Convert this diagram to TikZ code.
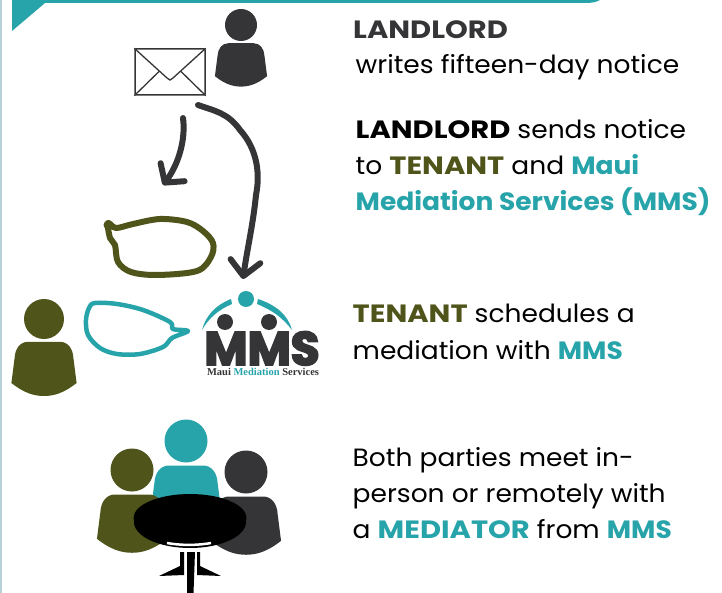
\documentclass[tikz,border=0pt]{standalone}
\usepackage{fontspec}
\setmainfont{Poppins}[FakeStretch=1.06]
\newfontfamily\capsfont{Poppins}[FakeStretch=1.16]
\newfontfamily\mmsfont{Poppins Bold}[FakeBold=4]
\newfontfamily\logofont{Liberation Serif}
\usetikzlibrary{arrows.meta}
\definecolor{teal1}{HTML}{27A3AA}
\definecolor{olive1}{HTML}{4F541A}
\definecolor{dark1}{HTML}{353537}
\definecolor{edge1}{HTML}{B8D0D8}
\newcommand{\lord}[1]{{\capsfont\bfseries #1}}
\newcommand{\ten}[1]{\textcolor{olive1}{\capsfont\bfseries #1}}
\newcommand{\med}[1]{\textcolor{teal1}{\capsfont\bfseries #1}}
\newcommand{\mms}[1]{\textcolor{teal1}{\textbf{#1}}}
% person: x, y of the head, head radius, colour
\newcommand{\person}[4]{
  \fill[#4] (#1,#2) circle (#3);
  \fill[#4, shift={(#1,#2)}, scale=#3] (-.8,1.14) -- (.8,1.14)
    .. controls (1.2,1.14) and (1.45,1.5) .. (1.47,1.95)
    -- (1.63,3.2) .. controls (1,3.7) and (.5,3.85) .. (0,3.85)
    .. controls (-.5,3.85) and (-1,3.7) .. (-1.63,3.2)
    -- (-1.47,1.95) .. controls (-1.45,1.5) and (-1.2,1.14) .. (-.8,1.14) -- cycle;
}
\begin{document}
\begin{tikzpicture}[x = 1pt, y = -1pt]
    \tikzstyle{every node} = [inner sep = 0pt];
    \tikzstyle{txt} = [anchor = base west, align = left, font = \fontsize{25}{36}\selectfont, text = black];
    \tikzstyle{mailbox} = [draw = dark1, line width = 1.5pt, rounded corners = 1pt, minimum width = 70pt, minimum height = 46pt];
    \tikzstyle{pen} = [draw = dark1, line width = 6pt, line cap = round, line join = round];
    \useasboundingbox (0,0) rectangle (722,593);
    % edge and banner:
    \fill[edge1] (0,0) rectangle (1.5,593);
    \fill[teal1] (12,0) -- (12,31) -- (45,3) -- (585,3) .. controls (592,3) and (597,2) .. (600,0) -- cycle;
    % landlord and notice:
    \person{241}{25}{16}{dark1}
    \node[mailbox] (mail) at (170,72){};
    \draw[dark1, line width = 1.3pt] (mail.north west) -- (167,78) -- (170,80) -- (173,78) -- (mail.north east);
    \draw[dark1, line width = 1.3pt] (mail.south west) -- (159,71.5);
    \draw[dark1, line width = 1.3pt] (mail.south east) -- (181,71.5);
    % arrows:
    \coordinate (from1) at (183,118);
    \coordinate (to1) at (163,185);
    \coordinate (from2) at (198,105);
    \coordinate (to2) at (243,279);
    \draw[pen, -{Straight Barb[round, length = 13pt, width = 30pt]}] (from1) .. controls (186,140) and (178,165) .. (to1);
    \draw[pen, -{Straight Barb[round, length = 15pt, width = 30pt]}] (from2) .. controls (215,111) and (228,113) .. (240,130)
      .. controls (258,150) and (260,175) .. (256,195) .. controls (253,225) and (247,250) .. (to2);
    % speech bubbles:
    \draw[olive1, line width = 6pt, line join = round] plot[smooth cycle, tension = .55] coordinates
      {(108,223) (116,228) (133,224) (160,219) (187,222) (203,231) (213,243) (211,257) (197,271) (157,275) (131,272) (118,262) (115,245) (110,238)};
    \fill[olive1] (108,225) circle (4.5);
    \draw[teal1, line width = 4.5pt, line join = round] plot[smooth cycle, tension = .55] coordinates
      {(95,303) (117,304) (143,310) (170,322) (173,329) (188,331) (172,338) (163,347) (140,354) (117,354) (100,348) (88,335) (86,320) (89,308)};
    % tenant:
    \person{44}{319}{20}{olive1}
    % logo:
    \fill[teal1] (246,299) circle (8);
    \fill[teal1] (202,330) .. controls (206,315) and (216,305) .. (231,299) -- (232,304) .. controls (218,310) and (209,318) .. (202,330) -- cycle;
    \fill[teal1] (292,330) .. controls (288,315) and (276,305) .. (258,299) -- (257,304) .. controls (272,310) and (283,318) .. (292,330) -- cycle;
    \fill[dark1] (225,322) circle (8);
    \fill[dark1] (269,322) circle (8);
    \node[anchor = base, text = dark1, font = \mmsfont\fontsize{47}{47}\selectfont] (logo) at (262,365){MMS};
    \node[anchor = base, text = dark1, font = \logofont\fontsize{10.5}{10.5}\selectfont\bfseries] (logoName) at (263,375){Maui \textcolor{teal1}{Mediation} Services};
    % meeting:
    \person{186}{441}{21.5}{teal1}
    \person{132}{470}{21.5}{olive1}
    \person{246}{472}{21.5}{dark1}
    \fill[black] (190,522) ellipse (56 and 26);
    \fill[black] (190,518) ellipse (56.5 and 24);
    \draw[white, line width = 2.5pt] (167,543) .. controls (180,545.5) and (198,545.5) .. (211,543);
    \fill[black] (187,552) -- (195,552) -- (193.5,593) -- (187,593) -- cycle;
    \fill[black] (180,552) -- (184,552) -- (184,575) -- (159,576) -- (180,566) -- cycle;
    \fill[black] (200,552) -- (197,552) -- (197,575) -- (221,576) -- (200,566) -- cycle;
    % texts:
    \node[txt, text = dark1] (t0) at (353,39){\lord{LANDLORD}};
    \node[txt] (t1) at (355.5,74){writes fifteen-day notice};
    \node[txt] (t2) at (355.5,211){\lord{LANDLORD} sends notice\\to \ten{TENANT} and \mms{Maui}\\\mms{Mediation Services (MMS)}};
    \node[txt] (t3) at (352.5,359){\ten{TENANT} schedules a\\mediation with \mms{MMS}};
    \node[txt] (t4) at (352.5,538){Both parties meet in-\\person or remotely with\\a \med{MEDIATOR} from \mms{MMS}};
\end{tikzpicture}
\end{document}
